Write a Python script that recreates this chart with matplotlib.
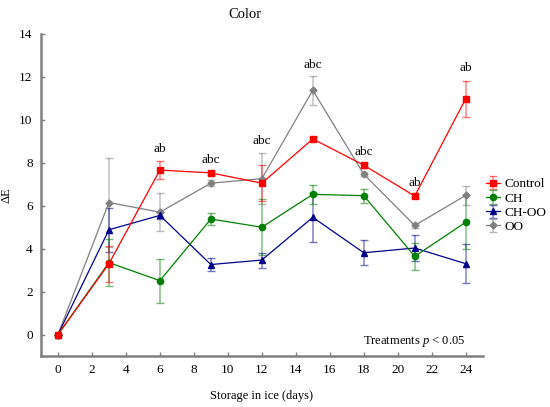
import matplotlib
matplotlib.use('Agg')
import matplotlib.pyplot as plt

plt.rcParams['font.family'] = ['Liberation Serif', 'DejaVu Serif']
plt.rcParams['mathtext.fontset'] = 'custom'
plt.rcParams['mathtext.it'] = 'Liberation Serif:italic'

days = [0, 3, 6, 9, 12, 15, 18, 21, 24]

control = [0, 3.30, 7.66, 7.53, 7.05, 9.11, 7.89, 6.45, 10.98]
control_err = [0, 0.83, 0.43, 0.08, 0.85, 0.08, 0.12, 0.08, 0.85]

ch = [0, 3.35, 2.51, 5.38, 5.00, 6.53, 6.47, 3.64, 5.23]
ch_err = [0, 1.10, 1.02, 0.27, 1.30, 0.43, 0.33, 0.62, 1.26]

ch_oo = [0, 4.88, 5.55, 3.26, 3.47, 5.46, 3.81, 4.03, 3.30]
ch_oo_err = [0, 1.03, 0.15, 0.30, 0.35, 1.13, 0.58, 0.62, 0.90]

oo = [0, 6.15, 5.70, 7.05, 7.26, 11.38, 7.47, 5.08, 6.48]
oo_err = [0, 2.07, 0.88, 0.13, 1.20, 0.68, 0.10, 0.10, 0.44]

sig_days = [6, 9, 12, 15, 18, 21, 24]
sig_labels = ['ab', 'abc', 'abc', 'abc', 'abc', 'ab', 'ab']
sig_y = [8.66, 8.15, 9.0, 12.57, 8.5, 7.04, 12.43]

fig = plt.figure(figsize=(5.5, 4.07), dpi=100)
ax = fig.add_axes([0.0745, 0.1253, 0.8031, 0.7912])

series = [
    ('Control', control, control_err, 'red', 's', 4.5),
    ('CH', ch, ch_err, 'green', 'o', 4.5),
    ('CH-OO', ch_oo, ch_oo_err, 'darkblue', '^', 4.5),
    ('OO', oo, oo_err, 'grey', 'D', 3.5),
]
for name, vals, errs, col, mk, ms in series[::-1]:
    eb = ax.errorbar(days, vals, yerr=errs, color=col, marker=mk, markersize=ms,
                     linewidth=0.9, elinewidth=1.2, capsize=3, capthick=1.0,
                     ecolor=col, label=name)
    for c in eb[1]:
        c.set_alpha(0.55)
    for b in eb[2]:
        b.set_alpha(0.45)

for d, lab, yy in zip(sig_days, sig_labels, sig_y):
    ax.text(d, yy, lab, ha='center', va='center', fontsize=9.5)

ax.set_xlim(-1, 25)
ax.set_ylim(-1, 14)
ax.set_xticks(range(0, 25, 2))
ax.set_yticks(range(0, 15, 2))
ax.spines['top'].set_visible(False)
ax.spines['right'].set_visible(False)
for s in ['left', 'bottom']:
    ax.spines[s].set_color('#808080')
    ax.spines[s].set_linewidth(1.8)
ax.tick_params(direction='in', length=3, width=1, color='#808080', labelsize=9.5, pad=6)

ax.set_xlabel('Storage in ice (days)', fontsize=9, labelpad=10)
ax.set_ylabel('ΔE', fontsize=9, labelpad=5)
fig.text(0.445, 0.965, 'Color', ha='center', va='center', fontsize=10.5)
ax.text(0.96, 0.045, 'Treatments $p$ < 0.05', transform=ax.transAxes,
        ha='right', va='center', fontsize=9)

handles, labels = ax.get_legend_handles_labels()
fig.legend(handles[::-1], labels[::-1], loc='upper left',
           bbox_to_anchor=(0.866, 0.585), frameon=False, fontsize=9.5,
           handlelength=1.1, handletextpad=0.3, labelspacing=0.15,
           borderpad=0.2)

fig.savefig('out.png', dpi=100)
